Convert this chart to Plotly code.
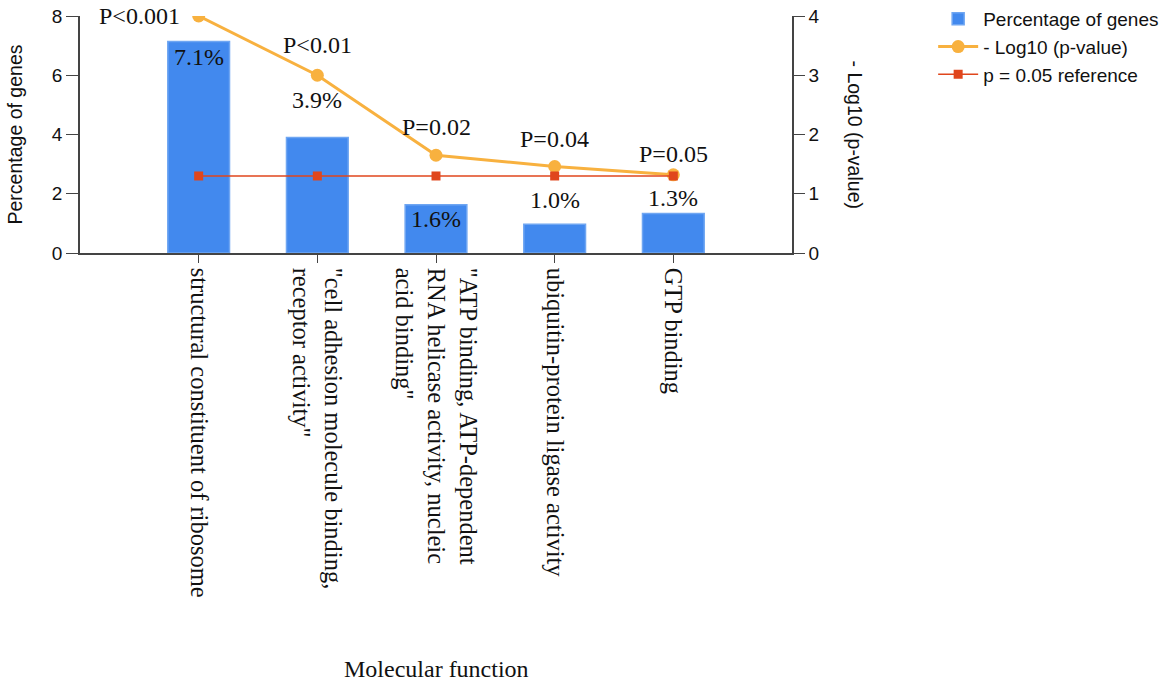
import plotly.graph_objects as go

categories = [
    'structural constituent of ribosome',
    '"cell adhesion molecule binding,<br>receptor activity"',
    '"ATP binding, ATP-dependent<br>RNA helicase activity, nucleic<br>acid binding"',
    'ubiquitin-protein ligase activity',
    'GTP binding',
]
pct_genes = [7.14, 3.9, 1.63, 0.97, 1.33]
pct_labels = ['7.1%', '3.9%', '1.6%', '1.0%', '1.3%']
neg_log_p = [4.0, 3.0, 1.65, 1.46, 1.32]
p_labels = ['P<0.001', 'P<0.01', 'P=0.02', 'P=0.04', 'P=0.05']
ref_line = [1.3, 1.3, 1.3, 1.3, 1.3]

# label offsets (pixels) for the annotations
pct_yshift = [-16, 37, -14, 24, 16]
p_xshift = [-17, 0, 0, 0, 0]
p_yshift = [0, 30, 28, 28, 21]
p_anchor = ['right', 'center', 'center', 'center', 'center']

BLUE = '#4289EE'
ORANGE = '#F8B13F'
RED = '#E0461C'
SERIF = 'Liberation Serif'
SANS = 'Liberation Sans'
TXT = '#111'

fig = go.Figure()
fig.add_trace(go.Bar(
    x=categories, y=pct_genes, name='Percentage of genes',
    marker=dict(color=BLUE, line=dict(color='#6FA6F2', width=1.5)),
    width=0.52, yaxis='y',
))
fig.add_trace(go.Scatter(
    x=categories, y=neg_log_p, name='- Log10 (p-value)', mode='lines+markers',
    line=dict(color=ORANGE, width=3), marker=dict(color=ORANGE, size=13, symbol='circle'),
    yaxis='y2',
))
fig.add_trace(go.Scatter(
    x=categories, y=ref_line, name='p = 0.05 reference', mode='lines+markers',
    line=dict(color=RED, width=1.5), marker=dict(color=RED, size=9, symbol='square'),
    yaxis='y2',
))

annotations = []
for c, v, t, ys in zip(categories, pct_genes, pct_labels, pct_yshift):
    annotations.append(dict(x=c, y=v, xref='x', yref='y', text=t, showarrow=False,
                            yshift=ys, yanchor='middle',
                            font=dict(family=SERIF, size=24, color=TXT)))
for c, v, t, xs, ys, xa in zip(categories, neg_log_p, p_labels, p_xshift, p_yshift, p_anchor):
    annotations.append(dict(x=c, y=v, xref='x', yref='y2', text=t, showarrow=False,
                            xshift=xs, yshift=ys, xanchor=xa, yanchor='middle',
                            font=dict(family=SERIF, size=24, color=TXT)))
annotations.append(dict(x=1.0885, y=0.5, xref='paper', yref='paper', text='- Log10 (p-value)',
                        textangle=90, showarrow=False, xanchor='center', yanchor='middle',
                        font=dict(family=SANS, size=19.5, color=TXT)))
annotations.append(dict(x=-0.0913, y=0.5, xref='paper', yref='paper', text='Percentage of genes',
                        textangle=-90, showarrow=False, xanchor='center', yanchor='middle',
                        font=dict(family=SANS, size=19.5, color=TXT)))
annotations.append(dict(x=0.5, y=0, xref='paper', yref='paper', yshift=-416, text='Molecular function',
                        showarrow=False, xanchor='center', yanchor='middle',
                        font=dict(family=SERIF, size=24, color=TXT)))

fig.update_layout(
    width=1176, height=683, autosize=False,
    margin=dict(l=80, r=384, t=16, b=430, autoexpand=False),
    paper_bgcolor='white', plot_bgcolor='white',
    showlegend=True,
    legend=dict(xref='container', yref='container', x=0.7935, y=1.004,
                xanchor='left', yanchor='top',
                font=dict(family=SANS, size=19, color=TXT), tracegroupgap=0,
                itemwidth=40),
    xaxis=dict(
        range=[-1, 5], tickangle=90, showline=True, linecolor='#444', linewidth=1.5,
        ticks='outside', ticklen=8, tickcolor='#444', automargin=False,
        tickfont=dict(family=SERIF, size=24.5, color=TXT), showgrid=False,
    ),
    yaxis=dict(
        range=[0, 8], dtick=2, showline=True, linecolor='#444', linewidth=1.5,
        ticks='outside', ticklen=12, tickcolor='#444', showgrid=False, zeroline=False,
        automargin=False, tickfont=dict(family=SANS, size=19, color=TXT),
    ),
    yaxis2=dict(
        range=[0, 4], dtick=1, overlaying='y', side='right', showline=True, linecolor='#444',
        linewidth=1.5, ticks='outside', ticklen=11, tickcolor='#444', showgrid=False, zeroline=False,
        automargin=False, tickfont=dict(family=SANS, size=19, color=TXT),
    ),
    annotations=annotations,
)

fig.write_html('out.html', config={'displayModeBar': False},
               post_script="document.body.style.margin='0';")
